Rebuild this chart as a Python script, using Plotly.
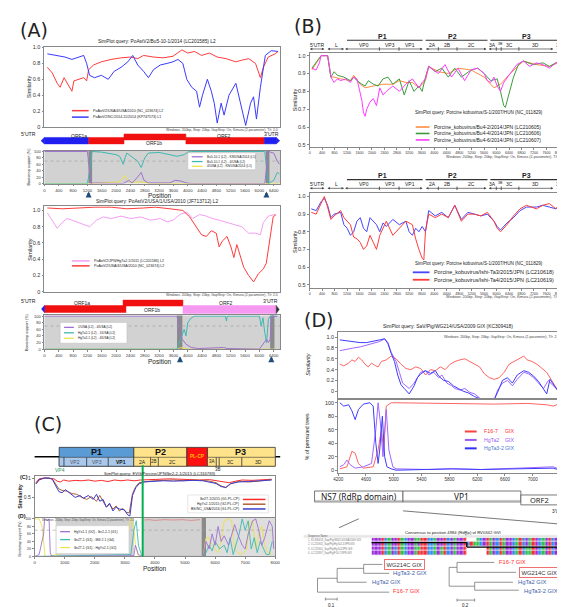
import plotly.graph_objects as go

# ======================= DATA =======================
# ---- Panel A, upper SimPlot (query PoAstV2/Bu5-10-1/2014) ----
a1_pos_red = [82, 219, 356, 438, 548, 630, 712, 767, 822, 959,
              1096, 1178, 1233, 1370, 1589, 1863, 2137, 2411, 2603, 2767,
              3041, 3315, 3589, 3836, 4000, 4192, 4384, 4603, 4822, 5069,
              5343, 5507, 5699, 5891, 6028, 6110, 6247, 6439, 6521]
a1_sim_red = [0.75, 0.68, 0.55, 0.50, 0.62, 0.55, 0.48, 0.45, 0.58, 0.60,
              0.62, 0.58, 0.72, 0.78, 0.82, 0.85, 0.87, 0.88, 0.86, 0.90,
              0.88, 0.87, 0.89, 0.97, 0.93, 0.95, 0.90, 0.93, 0.88, 0.86,
              0.82, 0.84, 0.86, 0.80, 0.62, 0.75, 0.88, 0.92, 0.95]
a1_pos_blue = [82, 301, 575, 767, 959, 1096, 1178, 1260, 1397, 1589,
               1781, 1945, 2137, 2329, 2466, 2603, 2767, 2904, 3041, 3233,
               3425, 3589, 3726, 3863, 3973, 4110, 4247, 4329, 4411, 4548,
               4658, 4740, 4822, 4932, 5014, 5151, 5343, 5480, 5617, 5754,
               5836, 5918, 6028, 6165, 6329, 6521]
a1_sim_blue = [0.92, 0.90, 0.88, 0.85, 0.88, 0.90, 0.80, 0.65, 0.62, 0.65,
               0.60, 0.70, 0.75, 0.82, 0.90, 0.78, 0.70, 0.62, 0.72, 0.78,
               0.80, 0.82, 0.85, 0.80, 0.60, 0.50, 0.45, 0.25, 0.40, 0.60,
               0.45, 0.30, 0.05, 0.30, 0.15, 0.40, 0.55, 0.30, 0.02, 0.30,
               0.38, 0.10, 0.50, 0.90, 0.96, 0.95]
a1_legend = ["PoAstV2/USA/4/USA/2010 (NC_023674) L2", "PoAstV2/NC/2014-11/2014 (KP747573) L1"]

a1_boot_pos_purple = [0, 1200, 1250, 1300, 1400, 2200, 2350, 2450, 2600, 2700, 2780,
                      2900, 3500, 3650, 3800, 3950, 4100, 6150, 6250, 6400, 6500, 6560]
a1_boot_purple = [100, 100, 50, 0, 2, 0, 10, 2, 20, 35, 10,
                  2, 2, 10, 8, 2, 0, 0, 100, 95, 70, 60]
a1_boot_pos_teal = [0, 1200, 1280, 1330, 1600, 1800, 2000, 2100, 2200, 2250, 2300, 2600, 2700,
                    2800, 2900, 3200, 3500, 3700, 3900, 4000, 4100, 6150, 6250, 6400, 6500, 6560]
a1_boot_teal = [0, 0, 50, 100, 98, 95, 90, 85, 60, 80, 95, 70, 50,
                80, 95, 97, 90, 85, 90, 98, 100, 100, 0, 10, 35, 30]
a1_boot_pos_yellow = [0, 1300, 2100, 2200, 2250, 2300, 2400, 2700, 3000, 6560]
a1_boot_yellow = [0, 0, 5, 20, 25, 15, 3, 5, 0, 0]
a1_boot_legend = ["Bu5-10-1 (L2) - KN/USA/2014 (L1)", "Bu5-10-1 (L2) - 4/USA (L2)", "4/USA (L2) - KN/USA/2014 (L1)"]

# ---- Panel A, lower SimPlot (query PoAstV2/USA/1/USA/2010) ----
a2_pos_pink = [82, 219, 356, 493, 630, 767, 959, 1123, 1260, 1452,
               1644, 1863, 2137, 2411, 2685, 2959, 3233, 3425, 3589, 3781,
               3973, 4137, 4329, 4521, 4685, 4877, 5151, 5343, 5507, 5699,
               5891, 6028, 6110, 6247, 6439]
a2_sim_pink = [0.97, 0.88, 0.78, 0.85, 0.90, 0.88, 0.85, 0.82, 0.80, 0.88,
               0.92, 0.90, 0.93, 0.90, 0.92, 0.88, 0.90, 0.86, 0.88, 0.95,
               0.98, 0.90, 0.95, 0.93, 0.90, 0.88, 0.85, 0.82, 0.80, 0.72,
               0.72, 0.70, 0.85, 0.93, 0.95]
a2_pos_red = [82, 500, 959, 1400, 1863, 2300, 2767, 3100, 3507, 3863,
              4055, 4247, 4384, 4521, 4658, 4795, 4877, 4959, 5096, 5206,
              5288, 5370, 5480, 5562, 5699, 5836, 5973, 6110, 6192, 6302,
              6384, 6466]
a2_sim_red = [1.03, 1.02, 1.03, 1.04, 1.04, 1.02, 1.03, 1.04, 1.02, 1.00,
              0.92, 0.80, 0.70, 0.68, 0.75, 0.72, 0.55, 0.62, 0.68, 0.55,
              0.42, 0.58, 0.40, 0.30, 0.20, 0.12, 0.22, 0.28, 0.35, 0.70,
              0.92, 0.95]
a2_legend = ["PoAstV2/JPN/HgTa2-1/2011 (LC201586) L2", "PoAstV2/USA/4/USA/2010 (NC_023674) L2"]

a2_boot_pos_purple = [0, 3700, 3750, 3800, 3850, 3950, 4100, 4300, 5000, 5100, 6000, 6100,
                      6200, 6250, 6300, 6350, 6500]
a2_boot_purple = [100, 100, 70, 40, 30, 15, 5, 2, 5, 2, 0, 15,
                  30, 20, 30, 100, 100]
a2_boot_pos_teal = [0, 3700, 3800, 3900, 3950, 4000, 4100, 4200, 5050, 5080, 5100, 6000,
                    6050, 6100, 6150, 6200, 6250, 6300, 6500]
a2_boot_teal = [0, 0, 30, 60, 40, 80, 95, 100, 100, 85, 100, 100,
                70, 95, 50, 20, 90, 100, 100]
a2_boot_pos_yellow = [0, 3700, 3800, 3900, 4000, 6500]
a2_boot_yellow = [0, 0, 5, 2, 0, 0]
a2_boot_legend = ["1/USA (L2) - 4/USA (L2)", "HgTa2-1 (L2) - 1/USA (L2)", "HgTa2-1 (L2) - 4/USA (L2)"]

a_pos_ticks = [0, 400, 800, 1200, 1600, 2000, 2400, 2800, 3200, 3600, 4000, 4400, 4800, 5200, 5600, 6000, 6400]

# ---- Panel B, upper (query Porcine kobuvirus/S-1/2007/HUN) ----
b1_pos_mag = [73, 209, 314, 366, 471, 576, 628, 681, 785, 890,
              995, 1152, 1309, 1413, 1518, 1623, 1675, 1728, 1780, 1832,
              1937, 2042, 2146, 2251, 2356, 2460, 2670, 2879, 3089, 3298,
              3507, 3612, 3717, 3822, 3979, 4136, 4345, 4554, 4764, 4973,
              5183, 5392, 5601, 5706, 5811, 5916, 6020, 6125, 6230, 6439,
              6649, 6858, 7067, 7277, 7486, 7695, 7905, 8114]
b1_sim_mag = [0.93, 0.92, 0.96, 1.00, 1.00, 1.00, 0.95, 0.88, 0.85, 0.87,
              0.86, 0.87, 0.85, 0.88, 0.87, 0.80, 0.75, 0.68, 0.66, 0.70,
              0.74, 0.76, 0.72, 0.82, 0.78, 0.80, 0.83, 0.80, 0.84, 0.87,
              0.82, 0.85, 0.87, 0.94, 0.92, 0.90, 0.95, 0.88, 0.93, 0.86,
              0.92, 0.93, 0.90, 0.86, 0.85, 0.88, 0.83, 0.80, 0.85, 0.90,
              0.95, 0.97, 0.94, 0.96, 0.95, 0.93, 0.96, 0.98]
b1_pos_green = [73, 366, 576, 681, 785, 890, 1099, 1309, 1413, 1518,
                1675, 1780, 1885, 2042, 2199, 2356, 2513, 2670, 2879, 3036,
                3193, 3350, 3507, 3612, 3717, 3822, 4031, 4240, 4450, 4659,
                4869, 5183, 5392, 5601, 5811, 6020, 6125, 6230, 6282, 6387,
                6544, 6701, 6858, 7172, 7486, 7695, 8010, 8114]
b1_sim_green = [0.93, 1.00, 1.00, 0.88, 0.91, 0.89, 0.88, 0.86, 0.88, 0.86,
                0.84, 0.83, 0.86, 0.84, 0.83, 0.87, 0.88, 0.84, 0.87, 0.78,
                0.86, 0.80, 0.83, 0.80, 0.88, 0.94, 0.91, 0.93, 0.88, 0.93,
                0.88, 0.92, 0.93, 0.90, 0.86, 0.87, 0.80, 0.72, 0.71, 0.78,
                0.88, 0.95, 0.97, 0.95, 0.96, 0.94, 0.97, 0.96]
b1_pos_orange = [73, 366, 576, 681, 785, 995, 1309, 1413, 1623, 1780,
                 2042, 2356, 2670, 2879, 3089, 3298, 3507, 3717, 3822, 4136,
                 4450, 4764, 5183, 5601, 5811, 5916, 6125, 6439, 6858, 7277,
                 7695, 8114]
b1_sim_orange = [0.92, 1.00, 1.00, 0.88, 0.88, 0.87, 0.86, 0.89, 0.84, 0.82,
                 0.83, 0.84, 0.84, 0.86, 0.85, 0.85, 0.82, 0.86, 0.94, 0.91,
                 0.90, 0.93, 0.92, 0.88, 0.84, 0.82, 0.84, 0.90, 0.97, 0.95,
                 0.94, 0.97]
b1_legend = ["Porcine_kobuvirus/Bu4-2/2014/JPN (LC210605)",
             "Porcine_kobuvirus/Bu4-4/2014/JPN (LC210606)",
             "Porcine_kobuvirus/Bu4-6/2014/JPN (LC210607)"]

# ---- Panel B, lower ----
b2_pos = [52, 209, 366, 471, 576, 681, 785, 995, 1099, 1204,
          1309, 1413, 1518, 1623, 1728, 1832, 1937, 2042, 2146, 2251,
          2356, 2460, 2670, 2879, 3089, 3193, 3298, 3403, 3507, 3612,
          3717, 3822, 4031, 4240, 4450, 4659, 4869, 5078, 5287, 5497,
          5706, 5916, 6020, 6125, 6334, 6544, 6753, 6963, 7277, 7486,
          7695, 7905, 8114]
b2_sim_blue = [0.93, 0.92, 0.97, 0.99, 0.95, 0.88, 0.90, 0.91, 0.84, 0.82,
               0.78, 0.80, 0.86, 0.88, 0.82, 0.80, 0.88, 0.86, 0.84, 0.80,
               0.85, 0.83, 0.87, 0.84, 0.86, 0.80, 0.78, 0.82, 0.80, 0.83,
               0.80, 0.92, 0.89, 0.91, 0.88, 0.95, 0.87, 0.91, 0.90, 0.89,
               0.90, 0.86, 0.83, 0.81, 0.85, 0.88, 0.92, 0.94, 0.94, 0.95,
               0.94, 0.93, 0.96]
b2_pos_red = [52, 209, 366, 471, 576, 681, 785, 995, 1099, 1204,
              1309, 1413, 1518, 1623, 1728, 1832, 1937, 2042, 2146, 2251,
              2356, 2460, 2670, 2879, 3089, 3298, 3403, 3507, 3612, 3665,
              3717, 3822, 4031, 4240, 4450, 4659, 4869, 5078, 5287, 5497,
              5706, 5916, 6020, 6125, 6334, 6544, 6753, 6963, 7277, 7486,
              7695, 7905, 8114]
b2_sim_red = [0.91, 0.90, 0.96, 1.00, 0.94, 0.87, 0.89, 0.92, 0.88, 0.86,
              0.84, 0.77, 0.76, 0.74, 0.70, 0.72, 0.78, 0.74, 0.70, 0.78,
              0.82, 0.86, 0.78, 0.82, 0.86, 0.84, 0.76, 0.70, 0.65, 0.64,
              0.80, 0.90, 0.88, 0.90, 0.88, 0.95, 0.86, 0.90, 0.90, 0.89,
              0.91, 0.86, 0.82, 0.80, 0.84, 0.89, 0.93, 0.95, 0.93, 0.95,
              0.96, 0.93, 0.98]
b2_legend = ["Porcine_kobuvirus/Ishi-Ta3/2015/JPN (LC210618)",
             "Porcine_kobuvirus/Ishi-Ta4/2015/JPN (LC210619)"]
b_pos_ticks = [0, 400, 800, 1200, 1600, 2000, 2400, 2800, 3200, 3600, 4000,
               4400, 4800, 5200, 5600, 6000, 6400, 6800, 7200, 7600, 8000]
b_sim_ticks = [0.5, 0.6, 0.7, 0.8, 0.9, 1.0]

# ---- Panel C ----
c_pos_red = [44, 152, 316, 479, 642, 751, 860, 969, 1132, 1350,
             1567, 1785, 2003, 2221, 2438, 2656, 2874, 3091, 3309, 3526,
             3853, 4180, 4506, 4832, 5159, 5485, 5812, 6030, 6247, 6465,
             6682, 6900, 7226, 7553, 7879]
c_sim_red = [0.88, 0.98, 1.00, 0.99, 0.98, 0.92, 0.90, 0.95, 0.92, 0.94,
             0.93, 0.95, 0.92, 0.94, 0.91, 0.95, 0.93, 0.95, 0.93, 0.95,
             0.96, 0.97, 0.98, 0.97, 0.96, 0.95, 0.96, 0.93, 0.90, 0.88,
             0.92, 0.95, 0.94, 0.95, 0.97]
c_pos_brown = [44, 152, 316, 479, 588, 697, 806, 914, 1078, 1241,
               1404, 1567, 1731, 1894, 2057, 2166, 2275, 2384, 2493, 2602,
               2710, 2819, 2928, 3037, 3146, 3254, 3363, 3472, 3635, 3962,
               4288, 4615, 4941, 5268, 5594, 5812, 6030, 6193, 6356, 6519,
               6791, 7118, 7444, 7879]
c_sim_brown = [0.85, 0.95, 1.00, 1.00, 0.98, 0.85, 0.72, 0.68, 0.66, 0.60,
               0.58, 0.50, 0.45, 0.52, 0.40, 0.55, 0.38, 0.25, 0.32, 0.20,
               0.28, 0.15, 0.22, 0.12, 0.10, 0.60, 0.78, 0.88, 0.90, 0.93,
               0.94, 0.95, 0.93, 0.95, 0.94, 0.92, 0.88, 0.80, 0.75, 0.85,
               0.92, 0.90, 0.92, 0.96]
c_pos_blue = [44, 152, 316, 479, 588, 697, 806, 914, 1023, 1186,
              1350, 1513, 1622, 1785, 1948, 2057, 2166, 2275, 2384, 2493,
              2602, 2710, 2819, 2983, 3091, 3167, 3254, 3363, 3472, 3635,
              3962, 4288, 4615, 4941, 5268, 5594, 5812, 6030, 6193, 6356,
              6519, 6791, 7118, 7444, 7879]
c_sim_blue = [0.85, 0.96, 1.00, 1.00, 0.97, 0.82, 0.65, 0.62, 0.70, 0.60,
              0.50, 0.55, 0.48, 0.55, 0.45, 0.58, 0.40, 0.45, 0.25, 0.35,
              0.15, 0.25, 0.20, 0.18, 0.05, 0.02, 0.55, 0.75, 0.85, 0.90,
              0.92, 0.93, 0.92, 0.93, 0.94, 0.93, 0.90, 0.86, 0.78, 0.76,
              0.86, 0.90, 0.91, 0.93, 0.95]
c_legend = ["Ibr2T-1/2015 (G1-PL-CP)", "HgYs2-1/2015 (G2-PL-CP)", "BS/NC_USA/2016 (G1-PL-CP)"]

c_boot_pos_purple = [0, 150, 300, 330, 360, 420, 480, 520, 560, 700,
                     3300, 3350, 3450, 3600, 5600, 5700, 5800, 5900, 6000, 6100,
                     6200, 6300, 6450, 6550, 6650, 6750, 6900, 7000, 7100, 7250,
                     7350, 7450, 7550, 7650, 7800, 7900, 7950]
c_boot_purple = [0, 5, 60, 100, 100, 95, 100, 10, 2, 0,
                 2, 30, 5, 0, 0, 40, 20, 60, 30, 80,
                 40, 55, 30, 60, 85, 60, 30, 20, 60, 95,
                 100, 70, 30, 50, 95, 80, 20]
c_boot_pos_teal = [0, 3200, 3300, 3380, 3450, 3550, 3600, 5600, 5700, 5800,
                   5900, 6000, 6150, 6300, 6400, 6500, 6600, 6700, 6800, 6900,
                   7000, 7100, 7200, 7300, 7400, 7500, 7600, 7700, 7800, 7900]
c_boot_teal = [0, 5, 70, 95, 30, 5, 0, 0, 10, 30,
               15, 40, 20, 30, 10, 50, 5, 30, 60, 100,
               70, 95, 20, 50, 10, 40, 20, 5, 5, 40]
c_boot_pos_yellow = [0, 150, 250, 300, 350, 500, 3100, 3200, 3280, 3350,
                     3450, 5600, 5700, 5800, 5900, 6000, 6100, 6200, 6300, 6450,
                     6550, 6650, 6750, 6850, 6950, 7050, 7150, 7250, 7350, 7450,
                     7550, 7650, 7750, 7900]
c_boot_yellow = [100, 100, 80, 40, 0, 0, 60, 100, 90, 30,
                 0, 0, 50, 50, 30, 20, 10, 40, 95, 100,
                 95, 20, 10, 5, 10, 20, 90, 95, 20, 60,
                 80, 30, 10, 5]
c_boot_pos_pink = [3650, 3800, 4000, 4300, 4600, 4900, 5200, 5500]
c_boot_pink = [97, 98, 96, 98, 97, 98, 96, 98]
c_boot_legend = ["HgYs2-1 (G2) - Ibr2-2-1 (G1)", "Ibr2T-1 (G1) - Mill 2-1 (G4)", "Ibr2T-1 (G1) - HgYs2-1 (G2)"]
c_pos_ticks = [0, 1000, 2000, 3000, 4000, 5000, 6000, 7000, 8000]

# ---- Panel D ----
d_pos_red = [4224, 4280, 4351, 4398, 4445, 4492, 4539, 4586, 4633, 4680,
             4727, 4775, 4822, 4892, 4963, 5034, 5104, 5175, 5246, 5316,
             5387, 5458, 5528, 5599, 5670, 5740, 5811, 5881, 5952, 6023,
             6093, 6164, 6235, 6305, 6376, 6447, 6517, 6588, 6659, 6729,
             6800, 6871, 6918, 6988, 7059, 7130, 7200, 7271, 7342, 7389]
d_sim_red = [0.50, 0.47, 0.52, 0.58, 0.55, 0.63, 0.58, 0.50, 0.45, 0.52,
             0.48, 0.45, 0.55, 0.58, 0.65, 0.60, 0.50, 0.42, 0.40, 0.45,
             0.42, 0.30, 0.40, 0.38, 0.45, 0.40, 0.50, 0.55, 0.58, 0.60,
             0.55, 0.50, 0.45, 0.32, 0.25, 0.22, 0.25, 0.35, 0.50, 0.55,
             0.60, 0.65, 0.58, 0.55, 0.50, 0.42, 0.35, 0.20, 0.05, -0.05]
d_pos_purple = [4224, 4327, 4421, 4516, 4610, 4704, 4798, 4869, 4916, 4963,
                5034, 5081, 5128, 5175, 5222, 5293, 5340, 5387, 5458, 5505,
                5575, 5646, 5693, 5764, 5834, 5881, 5952, 6023, 6093, 6164,
                6258, 6447, 6494, 6564, 6635, 6706, 6776, 6871, 6941, 7012,
                7082, 7153, 7224, 7294, 7365]
d_sim_purple = [0.75, 0.78, 0.80, 0.82, 0.85, 0.88, 0.92, 0.97, 0.90, 0.72,
                0.55, 0.35, 0.15, 0.10, 0.05, 0.15, 0.25, 0.35, 0.38, 0.30,
                0.35, 0.25, 0.30, 0.15, 0.10, 0.05, 0.02, 0.05, -0.02, -0.05,
                -0.15, -0.15, 0.02, 0.15, 0.20, 0.10, 0.22, 0.35, 0.32, 0.25,
                0.15, 0.05, 0.20, 0.10, 0.02]
d_pos_blue = [4224, 4327, 4421, 4516, 4610, 4704, 4798, 4869, 4916, 4963,
              5010, 5057, 5104, 5151, 5222, 5293, 5340, 5387, 5458, 5528,
              5599, 5646, 5717, 5787, 5858, 5929, 5999, 6070, 6164, 6258,
              6447, 6494, 6564, 6635, 6706, 6776, 6871, 6941, 7012, 7082,
              7153, 7200, 7247, 7318, 7365]
d_sim_blue = [0.95, 0.93, 0.92, 0.90, 0.90, 0.92, 0.95, 0.97, 0.88, 0.70,
              0.55, 0.30, 0.12, 0.05, -0.05, 0.10, 0.25, 0.32, 0.38, 0.33,
              0.38, 0.28, 0.20, 0.18, 0.10, 0.05, 0.00, -0.03, -0.10, -0.15,
              -0.15, -0.02, 0.20, 0.25, 0.15, 0.30, 0.38, 0.35, 0.28, 0.18,
              0.05, -0.05, 0.22, 0.08, 0.00]
d_boot_pos_blue = [4224, 4280, 4351, 4398, 4445, 4492, 4563, 4657, 4704, 4742,
                   4775, 4798, 4836, 4869, 4902, 4963, 5034, 5834, 6258, 7294, 7389]
d_boot_blue = [100, 95, 97, 88, 75, 90, 98, 100, 95, 40,
               10, 30, 80, 20, 5, 2, 0, 2, 1, 3, 0]
d_boot_pos_purple = [4224, 4280, 4327, 4374, 4445, 4563, 4680, 4742, 4775, 4808,
                     4845, 4892, 4930, 4987, 5034, 5505, 5834, 6258, 7294, 7342, 7389]
d_boot_purple = [5, 8, 15, 8, 3, 5, 10, 60, 100, 70,
                 20, 90, 30, 5, 2, 1, 2, 1, 5, 3, 1]
d_boot_pos_red = [4224, 4327, 4398, 4445, 4492, 4563, 4704, 4775, 4822, 4855,
                  4892, 4963, 5034, 5505, 5999, 6447, 6918, 7200, 7294, 7365]
d_boot_red = [2, 5, 28, 25, 10, 3, 5, 30, 60, 30,
              95, 100, 100, 99, 99, 98, 99, 97, 95, 98]
d_legend = ["F16-7", "HgTa2", "HgTa3-2"]
d_pos_ticks = [4200, 4600, 5000, 5400, 5800, 6200, 6600, 7000, 7400]
d_pos_ticklabels = ["4200", "4600", "5000", "5400", "5800", "6200", "6600", "7000", "740"]

# alignment (4 sequences, 60 columns)
aln_names = ["1. KC309418_Sap/Pig/WG214/USA/2009 GIX", "2. LC215902_Sap/Pig/HgTa3-2/JPN GIX",
             "3. LC215901_Sap/Pig/HgTa2/JPN GIX", "4. LC215897_Sap/Pig/F16-7/JPN GIX"]
aln_seqs = [
    "GGGTCAGGTA" + "CGGAATTCCA" + "GGTCGAGGT-" + "--ACGTAGCT" + "AGGCATCGAT" + "GCAGTCGATC",
    "GGGTCAGGTA" + "CGGAGTTCCA" + "GGTCGAGGTC" + "TAACGTAGCT" + "AGGCATCGAT" + "GCAGTCGATC",
    "GGGTCAGCTA" + "CGGAATTCCA" + "GATCGAGGT-" + "-----TAGCT" + "AGGCATCAAT" + "GCAGTCGGTC",
    "GGGTCAGCTA" + "CGGATTTCCA" + "GATCGAGGT-" + "-----TAGCT" + "AGGCATCAAT" + "GCAGTCGGTC",
]

# ======================= FIGURE =======================
W, H = 565, 607
FONT = "Liberation Sans, Arial, sans-serif"


def X(p):
    return p / W


def Y(p):
    return 1 - p / H


fig = go.Figure()
shapes, annots = [], []


def sfx(n):
    return "" if n == 1 else str(n)


def text(x, y, s, size=5.0, color="#222", xa="center", ya="middle", bold=False,
         angle=0, family=FONT, border=None, bg=None):
    if bold:
        s = "<b>" + s + "</b>"
    d = dict(x=X(x), y=Y(y), xref="paper", yref="paper", text=s, showarrow=False,
             font=dict(size=size, color=color, family=family), xanchor=xa, yanchor=ya,
             textangle=angle)
    if border:
        d.update(bordercolor=border, borderwidth=1, borderpad=1.5)
    if bg:
        d.update(bgcolor=bg)
    annots.append(d)


def rect(x0, y0, x1, y1, fill="rgba(0,0,0,0)", line="#000", lw=1.0, layer="above"):
    shapes.append(dict(type="rect", xref="paper", yref="paper", x0=X(x0), x1=X(x1),
                       y0=Y(y1), y1=Y(y0), fillcolor=fill, layer=layer,
                       line=dict(color=line, width=lw)))


def seg(x0, y0, x1, y1, color="#000", lw=1.0, dash="solid"):
    shapes.append(dict(type="line", xref="paper", yref="paper", x0=X(x0), y0=Y(y0),
                       x1=X(x1), y1=Y(y1), line=dict(color=color, width=lw, dash=dash)))


def tri(points, color):
    path = "M " + " L ".join(f"{X(a)},{Y(b)}" for a, b in points) + " Z"
    shapes.append(dict(type="path", xref="paper", yref="paper", path=path,
                       fillcolor=color, line=dict(color=color, width=0.5)))


def darrow(x0, x1, y, color="#444"):
    annots.append(dict(x=X(x1), y=Y(y), xref="paper", yref="paper", ax=x0 - x1, ay=0,
                       axref="pixel", ayref="pixel", text="", showarrow=True,
                       arrowhead=2, startarrowhead=2, arrowside="end+start",
                       arrowsize=0.7, startarrowsize=0.7, arrowwidth=0.7, arrowcolor=color))


def uparrow(x, y):
    annots.append(dict(x=X(x), y=Y(y), xref="paper", yref="paper", ax=0, ay=7,
                       axref="pixel", ayref="pixel", text="", showarrow=True,
                       arrowhead=2, arrowsize=0.55, arrowwidth=2.2, arrowcolor="#1f4e79"))


def axes(n, l, r, t, b, xr, yr, xt=None, yt=None, xfs=4.5, yfs=5.5, frame="#888"):
    s = sfx(n)
    xa = dict(domain=[X(l), X(r)], anchor="y" + s, range=xr, showgrid=False, zeroline=False,
              showline=True, mirror=True, linecolor=frame, linewidth=0.8)
    ya = dict(domain=[Y(b), Y(t)], anchor="x" + s, range=yr, showgrid=False, zeroline=False,
              showline=True, mirror=True, linecolor=frame, linewidth=0.8)
    if xt is None:
        xa.update(showticklabels=False, ticks="")
    else:
        xa.update(tickvals=xt[0], ticktext=xt[1], ticks="outside", ticklen=2, tickwidth=0.6,
                  tickcolor=frame, tickfont=dict(size=xfs, color="#333", family=FONT))
    if yt is None:
        ya.update(showticklabels=False, ticks="")
    else:
        ya.update(tickvals=yt[0], ticktext=yt[1], ticks="outside", ticklen=2, tickwidth=0.6,
                  tickcolor=frame, tickfont=dict(size=yfs, color="#333", family=FONT))
    fig.update_layout(**{"xaxis" + s: xa, "yaxis" + s: ya})


def line(n, xs, ys, color, width=1.0):
    s = sfx(n)
    fig.add_trace(go.Scatter(x=xs, y=ys, mode="lines", line=dict(color=color, width=width),
                             xaxis="x" + s, yaxis="y" + s, showlegend=False, hoverinfo="skip"))


def dshape(n, kind, x0, x1, y0, y1, fill=None, color=None, width=0.8, dash="solid",
           layer="below", xdom=False, ydom=False):
    s = sfx(n)
    d = dict(type=kind, xref="x" + s + (" domain" if xdom else ""),
             yref="y" + s + (" domain" if ydom else ""),
             x0=x0, x1=x1, y0=y0, y1=y1, layer=layer,
             line=dict(color=color or "rgba(0,0,0,0)", width=width if color else 0, dash=dash))
    if fill:
        d["fillcolor"] = fill
    shapes.append(d)


def labels(vals):
    return [str(v) for v in vals]


sim_ticks = ([0, 0.2, 0.4, 0.6, 0.8, 1.0], ["0", "0.2", "0.4", "0.6", "0.8", "1.0"])
boot_ticks = ([0, 20, 40, 60, 80, 100], ["0", "20", "40", "60", "80", "100"])
WIN = "Windows: 200bp, Step: 20bp, GapStrip: On, Kimura (2-parameter), T/t: 2.0"

RED, BLUE, PINK = "#ff3b3b", "#3a3aff", "#f29ef2"
PUR, TEAL, YEL = "#a070d0", "#3fb8b0", "#ece24a"
GRAY, DARK = "#d2d2d2", "#8a8a8a"

# ---------------- Panel A ----------------
text(21, 20, "(A)", size=19, color="#222", family="DejaVu Sans, sans-serif")
text(147, 31.5, "SimPlot query: PoAstV2/Bu5-10-1/2014 (LC201585) L2", size=4.8)
axes(1, 32, 272, 37, 118, [0, 6580], [0, 1.01], yt=sim_ticks, yfs=5.5)
line(1, a1_pos_red, a1_sim_red, RED)
line(1, a1_pos_blue, a1_sim_blue, BLUE)
text(17, 77, "Similarity", size=5.5, angle=-90)
for i, (c, lab) in enumerate(zip([RED, BLUE], a1_legend)):
    yy = 101.5 + 6.5 * i
    seg(60, yy, 77, yy, color=c, lw=1.5)
    text(79, yy, lab, size=3.6, xa="left")
text(272, 120.5, WIN, size=3.4, xa="right", color="#444")

# genome map A1
text(16, 125, "5'UTR", size=5.2)
text(67, 127, "ORF1a", size=5)
text(215, 127.5, "ORF2", size=5)
text(263, 125.5, "3'UTR", size=5.2)
rect(32, 128.5, 77, 135, fill="#1f1ff0", line="#1f1ff0", lw=0.5)
rect(77, 128.5, 113, 135, fill="#f01010", line="#f01010", lw=0.5)
rect(113, 125, 176, 131, fill="#f01010", line="#f01010", lw=0.5)
rect(176, 128.5, 256, 135, fill="#f01010", line="#f01010", lw=0.5)
rect(256, 128.5, 268, 135, fill="#1f1ff0", line="#1f1ff0", lw=0.5)
tri([(32, 128.5), (32, 135), (28.5, 131.8)], "#1f1ff0")
tri([(268, 128.5), (268, 135), (271.5, 131.8)], "#1f1ff0")
text(144, 134, "ORF1b", size=5)

# bootscan A1
axes(2, 32, 272, 142, 175, [0, 6580], [0, 102],
     xt=(a_pos_ticks, labels(a_pos_ticks)), yt=boot_ticks, xfs=4.3, yfs=4)
dshape(2, "rect", 0, 1, 0, 1, fill=GRAY, xdom=True, ydom=True)
dshape(2, "rect", 1230, 1330, 0, 1, fill=DARK, ydom=True)
dshape(2, "rect", 6180, 6280, 0, 1, fill=DARK, ydom=True)
dshape(2, "line", 0, 1, 70, 70, color="#999", width=0.6, dash="dot", xdom=True, layer="above")
line(2, a1_boot_pos_yellow, a1_boot_yellow, YEL, 1.0)
line(2, a1_boot_pos_teal, a1_boot_teal, TEAL, 1.0)
line(2, a1_boot_pos_purple, a1_boot_purple, PUR, 1.0)
text(16, 158, "Bootstrap support (%)", size=3.8, angle=-90)
rect(178, 144, 247, 161, fill="white", line="#bbb", lw=0.5)
for i, (c, lab) in enumerate(zip([PUR, TEAL, YEL], a1_boot_legend)):
    yy = 148 + 4.8 * i
    seg(182, yy, 193, yy, color=c, lw=1.3)
    text(195, yy, lab, size=3.2, xa="left")
text(150, 187.5, "Position", size=6.5)
uparrow(77, 183)
uparrow(258, 183)

# similarity A2
text(147, 193, "SimPlot query: PoAstV2/USA/1/USA/2010 (JF713712) L2", size=4.8)
axes(3, 32, 272, 198, 284, [0, 6580], [0, 1.05], yt=sim_ticks, yfs=5.5)
line(3, a2_pos_pink, a2_sim_pink, PINK)
line(3, a2_pos_red, a2_sim_red, RED)
text(17, 241, "Similarity", size=5.5, angle=-90)
for i, (c, lab) in enumerate(zip([PINK, RED], a2_legend)):
    yy = 253 + 5 * i
    seg(60, yy, 78, yy, color=c, lw=1.5)
    text(80, yy, lab, size=3.6, xa="left")
text(272, 287.5, WIN, size=3.4, xa="right", color="#444")

# genome map A2
text(16, 293, "5'UTR", size=5.2)
text(70, 295, "ORF1a", size=5)
text(217, 295, "ORF2", size=5)
text(262, 293, "3'UTR", size=5.2)
rect(32, 298, 115, 305, fill="#f01010", line="#f01010", lw=0.5)
rect(112, 292.5, 173, 298.5, fill="#f01010", line="#f01010", lw=0.5)
rect(173, 298, 268, 306, fill="#f59af0", line="#f59af0", lw=0.5)
tri([(32, 298), (32, 305), (29, 301.5)], "#1f1ff0")
tri([(268, 298), (268, 306), (271, 302)], "#333")
text(142, 302.5, "ORF1b", size=5)

# bootscan A2
axes(4, 32, 272, 308, 342, [0, 6580], [0, 102],
     xt=(a_pos_ticks, labels(a_pos_ticks)), yt=boot_ticks, xfs=4.3, yfs=4)
dshape(4, "rect", 0, 1, 0, 1, fill=GRAY, xdom=True, ydom=True)
dshape(4, "rect", 3700, 3850, 0, 1, fill=DARK, ydom=True)
dshape(4, "rect", 6300, 6420, 0, 1, fill=DARK, ydom=True)
dshape(4, "line", 0, 1, 70, 70, color="#999", width=0.6, dash="dot", xdom=True, layer="above")
line(4, a2_boot_pos_yellow, a2_boot_yellow, YEL, 1.0)
line(4, a2_boot_pos_teal, a2_boot_teal, TEAL, 1.0)
line(4, a2_boot_pos_purple, a2_boot_purple, PUR, 1.0)
text(15, 325, "Bootstrap support (%)", size=3.8, angle=-90)
rect(48, 315, 116, 336, fill="white", line="#bbb", lw=0.5)
for i, (c, lab) in enumerate(zip([PUR, TEAL, YEL], a2_boot_legend)):
    yy = 320 + 5.5 * i
    seg(52, yy, 62, yy, color=c, lw=1.3)
    text(64, yy, lab, size=3.2, xa="left")
text(150, 354, "Position", size=6.5)
uparrow(170, 349)
uparrow(263, 349)

# ---------------- Panel B ----------------
text(300, 16, "(B)", size=19, color="#222", family="DejaVu Sans, sans-serif")


def bmap(base):
    for lab, xc in (("P1", 376), ("P2", 447), ("P3", 523)):
        text(xc, base, lab, size=7, bold=True)
    for a, b in ((340, 417), (420, 483), (486, 560)):
        seg(a, base + 4, b, base + 4, color="#333", lw=1.1)
    subs = [("5'UTR", 309), ("L", 329), ("VP0", 357), ("VP3", 384), ("VP1", 404),
            ("2A", 427), ("2B", 442), ("2C", 467), ("3A", 488), ("3C", 505),
            ("3D", 532)]
    for lab, xc in subs:
        text(xc, base + 8.5, lab, size=5)
    text(565, base + 8.5, "3'UT", size=5, xa="right")
    text(496, base + 7.5, "3B", size=3.5)
    for a, b in ((301, 317), (319, 337), (338, 417), (420, 482), (484, 550), (552, 565)):
        darrow(a, b, base + 12.8)
    for xt in (373, 393, 433, 452, 492, 497, 515):
        seg(xt, base + 11, xt, base + 14.6, color="#333", lw=0.8)


bmap(26.5)
axes(5, 302, 563, 43, 138, [0, 8230], [0.489, 1.017],
     xt=(b_pos_ticks, labels(b_pos_ticks)), yt=(b_sim_ticks, ["0.5", "0.6", "0.7", "0.8", "0.9", "1.0"]),
     xfs=3.6, yfs=5.5)
line(5, b1_pos_orange, b1_sim_orange, "#ff8c40")
line(5, b1_pos_green, b1_sim_green, "#3c9c3c")
line(5, b1_pos_mag, b1_sim_mag, "#ff3cff")
text(287, 90, "Similarity", size=5.5, angle=-90)
text(407, 103, "SimPlot query: Porcine kobuvirus/S-1/2007/HUN (NC_011829)", size=4.6, xa="left")
for i, (c, lab) in enumerate(zip(["#ff8c40", "#3c9c3c", "#ff3cff"], b1_legend)):
    yy = 118 + 6.5 * i
    seg(410, yy, 424, yy, color=c, lw=1.6)
    text(427, yy, lab, size=5, xa="left")
text(563, 148, WIN, size=3.6, xa="right", color="#444")

bmap(167)
axes(6, 302, 563, 185, 280, [0, 8230], [0.483, 1.017],
     xt=(b_pos_ticks, labels(b_pos_ticks)), yt=(b_sim_ticks, ["0.5", "0.6", "0.7", "0.8", "0.9", "1.0"]),
     xfs=3.6, yfs=5.5)
line(6, b2_pos, b2_sim_blue, "#4646ff")
line(6, b2_pos_red, b2_sim_red, "#ff3c3c")
text(287, 233, "Similarity", size=5.5, angle=-90)
text(407, 256, "SimPlot query: Porcine kobuvirus/S-1/2007/HUN (NC_011829)", size=4.6, xa="left")
for i, (c, lab) in enumerate(zip(["#4646ff", "#ff3c3c"], b2_legend)):
    yy = 264.5 + 7.5 * i
    seg(407, yy, 424, yy, color=c, lw=1.8)
    text(427, yy, lab, size=5.4, xa="left")
text(563, 289.5, WIN, size=3.6, xa="right", color="#444")

# ---------------- Panel C ----------------
text(36, 417, "(C)", size=19, color="#222", family="DejaVu Sans, sans-serif")
seg(22, 450.5, 272, 450.5, color="#000", lw=1.4)
# P1
rect(47, 441, 123, 460, fill="#5b9bd5", line="#333", lw=0.8)
for a, b in ((47, 52), (52, 75), (75, 97), (97, 123)):
    rect(a, 451, b, 460, fill="#a9c8ea", line="#333", lw=0.6)
text(85, 446, "P1", size=9, bold=True, color="#111")
text(63.5, 455.5, "VP2", size=5, color="#556")
text(86, 455.5, "VP3", size=5, color="#556")
text(110, 455.5, "VP1", size=5, bold=True, color="#111")
# P2
rect(123, 441, 177, 460, fill="#ffe38a", line="#333", lw=0.8)
for a, b in ((123, 140), (140, 148), (148, 177)):
    rect(a, 451, b, 460, fill="#ffe38a", line="#333", lw=0.6)
text(150, 446, "P2", size=9, bold=True, color="#111")
text(131.5, 455.5, "2A", size=5)
text(144, 455.5, "2B", size=4.5)
text(162.5, 455.5, "2C", size=5)
# PL-CP
rect(177, 441, 198, 460, fill="#ff1010", line="#333", lw=0.8)
text(187.5, 450.5, "PL-CP", size=4.6, bold=True, color="#ffc000")
# P3
rect(198, 441, 267, 460, fill="#ffe38a", line="#333", lw=0.8)
for a, b in ((198, 207), (207, 210), (210, 233), (233, 267)):
    rect(a, 451, b, 460, fill="#ffe38a", line="#333", lw=0.6)
text(232, 446, "P3", size=9, bold=True, color="#111")
text(202.5, 455.5, "3A", size=4.5)
text(221, 455.5, "3C", size=5)
text(250, 455.5, "3D", size=5)
text(48, 464, "VP4", size=5, color="#2f8f5f")
text(209, 463.5, "3B", size=4.5)

text(150, 467, "SimPlot query: EVG/Porcine/JPN/Ibr2-2-1/2015 (LC316783)", size=4.2)
axes(7, 22, 267, 470, 511, [0, 8000], [0, 1.05], yt=([0.5, 1.0], ["0.5", "1"]), yfs=5)
line(7, c_pos_red, c_sim_red, "#ff2a2a")
line(7, c_pos_brown, c_sim_brown, "#b0603a")
line(7, c_pos_blue, c_sim_blue, "#3c3ccc")
text(7, 490, "Similarity", size=5.5, angle=-90, bold=True)
text(11, 471, "(C)", size=5.5, bold=True)
rect(178, 489, 260, 507, fill="white", line="#ccc", lw=0.5)
for i, (c, lab) in enumerate(zip(["#ff2a2a", "#b0603a", "#3c3ccc"], c_legend)):
    yy = 493.5 + 4.8 * i
    seg(234, yy, 257, yy, color=c, lw=1.5)
    text(232, yy, lab, size=3.5, xa="right")

axes(8, 22, 267, 512, 551, [0, 8000], [0, 103],
     xt=(c_pos_ticks, labels(c_pos_ticks)), yt=boot_ticks, xfs=4.2, yfs=3.5)
dshape(8, "rect", 700, 3300, 0, 1, fill=GRAY, ydom=True)
dshape(8, "rect", 3600, 5550, 0, 1, fill=GRAY, ydom=True)
dshape(8, "rect", 5550, 5700, 0, 1, fill=DARK, ydom=True)
dshape(8, "rect", 5700, 8000, 0, 1, fill="#dedede", ydom=True)
dshape(8, "line", 0, 1, 70, 70, color="#999", width=0.6, dash="dot", xdom=True, layer="above")
line(8, c_boot_pos_pink, c_boot_pink, "#e08080", 0.8)
line(8, c_boot_pos_yellow, c_boot_yellow, YEL, 0.9)
line(8, c_boot_pos_teal, c_boot_teal, TEAL, 0.9)
line(8, c_boot_pos_purple, c_boot_purple, PUR, 0.9)
text(27, 514.5, WIN, size=2.8, xa="left", color="#555")
text(9, 510, "(D)", size=5.5, bold=True)
text(7, 533, "Bootstrap support (%)", size=3.6, angle=-90)
rect(44, 520, 118, 548, fill="white", line="#ccc", lw=0.5)
for i, (c, lab) in enumerate(zip([PUR, TEAL, YEL], c_boot_legend)):
    yy = 526 + 8 * i
    seg(48, yy, 58, yy, color=c, lw=1.3)
    text(60, yy, lab, size=3.4, xa="left")
text(145, 563, "Position", size=6.5)
seg(132, 459, 132, 551, color="#00b050", lw=2)

# ---------------- Panel D ----------------
text(311, 313, "(D)", size=19, color="#222", family="DejaVu Sans, sans-serif")
text(443, 319, "SimPlot query: SaV/Pig/WG214/USA/2009 GIX (KC309418)", size=4.9)
axes(9, 331, 563, 325, 392, [4200, 7478], [-0.14, 1.09], yt=sim_ticks, yfs=5.5)
line(9, d_pos_red, d_sim_red, "#ff6464")
line(9, d_pos_purple, d_sim_purple, "#a066ff")
line(9, d_pos_blue, d_sim_blue, "#3c3cff")
text(558, 329.5, WIN, size=3.5, xa="right", color="#444")
text(300, 357, "<i>Similarity</i>", size=5.5, angle=-90)

axes(10, 331, 563, 392, 467, [4200, 7478], [-4.4, 105.9],
     xt=(d_pos_ticks, d_pos_ticklabels), yt=boot_ticks, xfs=4.5, yfs=5.5)
line(10, d_boot_pos_red, d_boot_red, "#ff6464")
line(10, d_boot_pos_purple, d_boot_purple, "#a066ff")
line(10, d_boot_pos_blue, d_boot_blue, "#3c3cff")
text(300, 430, "% of permuted trees", size=5.2, angle=-90)
for i, (c, lab) in enumerate(zip(["#ff4040", "#9a5af0", "#3030ff"], d_legend)):
    yy = 425 + 8.5 * i
    tc = ["#ff3030", "#9a5af0", "#4a7ad0"][i]
    seg(460, yy, 472, yy, color=c, lw=2)
    text(477, yy, lab, size=5.3, xa="left", color=tc)
    text(499, yy, "GIX", size=5.3, xa="left", color=tc)

# gene map D
rect(307, 485, 397, 496, fill="white", line="#555", lw=0.8)
rect(397, 485, 517, 496, fill="white", line="#555", lw=0.8)
seg(307, 494.5, 517, 494.5, color="#888", lw=0.5)
text(352, 490.5, "NS7 (RdRp domain)", size=8.3, color="#222", family="Noto Sans, sans-serif")
text(457, 490.5, "VP1", size=8.3, color="#222", family="Noto Sans, sans-serif")
rect(517, 489, 555, 499, fill="white", line="#555", lw=0.8)
text(536, 494, "ORF2", size=7.5, color="#222", family="Noto Sans, sans-serif")
seg(555, 494, 565, 494, color="#000", lw=1.5)
text(565, 506, "3'UTR", size=4.8, xa="right")
seg(332, 522, 352, 513, color="#555", lw=0.8)
seg(397, 505, 565, 519, color="#555", lw=0.8)
text(448, 526.5, "Consensus to position 4984 (RdRp) of RV0342 GVI", size=4.2)
seg(461, 528.5, 461, 532, color="#333", lw=1)

# alignment
rect(296, 529.5, 565, 532, fill="#e6e6e6", line="#e6e6e6", lw=0.3)
text(298, 530.8, "Sequence Name", size=2.6, xa="left", color="#666")
for i, nm in enumerate(aln_names):
    text(298, 534.5 + 4.4 * i, nm, size=2.6, xa="left", color="#777")
code = {"-": 0, "G": 1, "A": 2, "C": 3, "T": 4}
z = [[code[ch] for ch in s] for s in aln_seqs]
c0, c1, c2, c3, c4 = "#ffffff", "#9b30d9", "#33c24a", "#2f8cf0", "#f0303a"
cs = [[0, c0], [0.125, c0], [0.125, c1], [0.375, c1], [0.375, c2], [0.625, c2],
      [0.625, c3], [0.875, c3], [0.875, c4], [1, c4]]
fig.add_trace(go.Heatmap(z=z, x=list(range(len(aln_seqs[0]))), y=list(range(len(aln_seqs))),
                         colorscale=cs, zmin=0, zmax=4, showscale=False, xgap=0.4, ygap=0.8,
                         xaxis="x11", yaxis="y11", hoverinfo="skip"))
fig.update_layout(xaxis11=dict(domain=[X(365), X(565)], anchor="y11", range=[-0.5, 59.5], visible=False),
                  yaxis11=dict(domain=[Y(550), Y(532)], anchor="x11", range=[3.5, -0.5], visible=False))
seg(365, 537, 462, 537, color="#000", lw=1.3)
seg(462, 537, 462, 541.5, color="#000", lw=1.3)
seg(462, 541.5, 565, 541.5, color="#000", lw=1.3)

# trees
TC = "#666"
for a in [(310, 573, 310, 587), (310, 587, 383, 587), (310, 573, 330, 573), (330, 563, 330, 577),
          (330, 577, 360, 577), (330, 563, 357, 563), (357, 559, 357, 568), (357, 559, 376, 559),
          (357, 568, 383, 568)]:
    seg(*a, color=TC, lw=0.7)
text(399, 559.5, "WG214C GIX", size=5.8, color="#333", border="#f07070")
text(385, 568, "HgTa3-2 GIX", size=5.8, color="#4060a8", xa="left")
text(363, 577, "HgTa2 GIX", size=5.8, color="#4060a8", xa="left")
text(385, 586, "F16-7 GIX", size=5.8, color="#ff3030", xa="left")
seg(318, 594, 330, 594, color=TC, lw=0.7)
seg(318, 592.5, 318, 595.5, color=TC, lw=0.7)
seg(330, 592.5, 330, 595.5, color=TC, lw=0.7)
text(324, 600, "0.1", size=4.5)

for a in [(444, 562, 444, 581), (444, 562, 452, 562), (452, 557, 452, 567), (452, 557, 490, 557),
          (452, 567, 512, 567), (444, 581, 470, 581), (470, 577, 470, 585), (470, 577, 509, 577),
          (470, 585, 515, 585)]:
    seg(*a, color=TC, lw=0.7)
text(493, 557, "F16-7 GIX", size=5.8, color="#ff3030", xa="left")
text(536, 567.5, "WG214C GIX", size=5.8, color="#333", border="#f07070")
text(512, 577, "HgTa2 GIX", size=5.8, color="#4060a8", xa="left")
text(518, 586, "HgTa3-2 GIX", size=5.8, color="#4060a8", xa="left")
seg(452, 595, 470, 595, color=TC, lw=0.7)
seg(452, 593.5, 452, 596.5, color=TC, lw=0.7)
seg(470, 593.5, 470, 596.5, color=TC, lw=0.7)
text(461, 600.5, "0.2", size=4.5)

fig.update_layout(width=W, height=H, autosize=False, margin=dict(l=0, r=0, t=0, b=0),
                  paper_bgcolor="white", plot_bgcolor="rgba(0,0,0,0)", showlegend=False,
                  hovermode=False, shapes=shapes, annotations=annots,
                  font=dict(family=FONT, color="#222"))
fig.write_html("out.html")
